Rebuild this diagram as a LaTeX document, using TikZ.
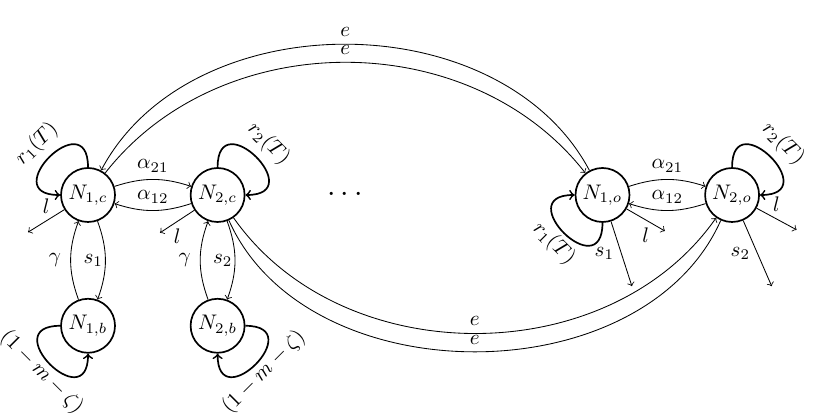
\documentclass[tikz,border=0pt]{standalone}
\usepackage{tikz}
\usetikzlibrary{positioning}

\tikzset{
  state/.style={circle,draw,thick,minimum size=0.9cm,inner sep=0pt},
  selfloop/.style={thick,->,looseness=4.2},
}

\begin{document}
\begin{tikzpicture}[>=to, node distance=2.18cm and 2.16cm, on grid]
    %%Frame
    \useasboundingbox (-1.467,3.25) rectangle (12.217,-3.65);
    %%States
    \node[state] (N1c) at (0,0) {$N_{1,c}$};
    \node[state, right=of N1c] (N2c) {$N_{2,c}$};
    \node[state, below=of N1c] (N1b) {$N_{1,b}$};
    \node[state, below=of N2c] (N2b) {$N_{2,b}$};
    \node[right=4.28cm of N1c] (dots) {\Large$\cdots$};
    \node[state, right=8.575cm of N1c] (N1o) {$N_{1,o}$};
    \node[state, right=of N1o] (N2o) {$N_{2,o}$};
    %%Free ends
    \coordinate (l1c) at ([shift={(-1,-0.62)}]N1c.center);
    \coordinate (l2c) at ([shift={(-0.96,-0.63)}]N2c.center);
    \coordinate (l1o) at ([shift={(1.04,-0.6)}]N1o.center);
    \coordinate (l2o) at ([shift={(1.075,-0.58)}]N2o.center);
    \coordinate (s1o) at ([shift={(0.49,-1.52)}]N1o.center);
    \coordinate (s2o) at ([shift={(0.66,-1.52)}]N2o.center);
    %%Self loops
    \draw[selfloop] (N1c) to[out=90,in=180] node[sloped,above]{$r_1(T)$} (N1c);
    \draw[selfloop] (N2c) to[out=90,in=0] node[sloped,above]{$r_2(T)$} (N2c);
    \draw[selfloop] (N1o) to[out=270,in=180] node[sloped,below,inner sep=1.5pt]{$r_1(T)$} (N1o);
    \draw[selfloop] (N2o) to[out=90,in=0] node[sloped,above]{$r_2(T)$} (N2o);
    \draw[selfloop] (N1b) to[out=180,in=270] node[sloped,below,inner sep=0pt]{$(1-m-\zeta)$} (N1b);
    \draw[selfloop] (N2b) to[out=0,in=270] node[sloped,below,inner sep=0pt]{$(1-m-\zeta)$} (N2b);
    %%Migration
    \draw[->] (N1c) to[bend left=18] node[above]{$\alpha_{21}$} (N2c);
    \draw[->] (N2c) to[bend left=18] node[above]{$\alpha_{12}$} (N1c);
    \draw[->] (N1o) to[bend left=18] node[above]{$\alpha_{21}$} (N2o);
    \draw[->] (N2o) to[bend left=18] node[above]{$\alpha_{12}$} (N1o);
    %%Between b and c
    \draw[->] (N1b) to[bend left=20] node[left=1pt]{$\gamma$} (N1c);
    \draw[->] (N1c) to[bend left=20] node[left,inner sep=1pt]{$s_1$} (N1b);
    \draw[->] (N2b) to[bend left=20] node[left=1pt]{$\gamma$} (N2c);
    \draw[->] (N2c) to[bend left=20] node[left,inner sep=1pt]{$s_2$} (N2b);
    %%Losses
    \draw[->] (N1c) -- node[above]{$l$} (l1c);
    \draw[->] (N2c) -- node[below]{$l$} (l2c);
    \draw[->] (N1o) -- node[below]{$l$} (l1o);
    \draw[->] (N2o) -- node[above]{$l$} (l2o);
    \draw[->] (N1o) -- node[left]{$s_1$} (s1o);
    \draw[->] (N2o) -- node[left]{$s_2$} (s2o);
    %%Exchange
    \draw[->] (N1o) to[bend right=62] node[above]{$e$} (N1c);
    \draw[->] (N1c) to[bend left=52] node[above]{$e$} (N1o);
    \draw[->] (N2c) to[bend right=55] node[above]{$e$} (N2o);
    \draw (N2o) to[bend left=66] node[above]{$e$} (N2c);
\end{tikzpicture}
\end{document}
